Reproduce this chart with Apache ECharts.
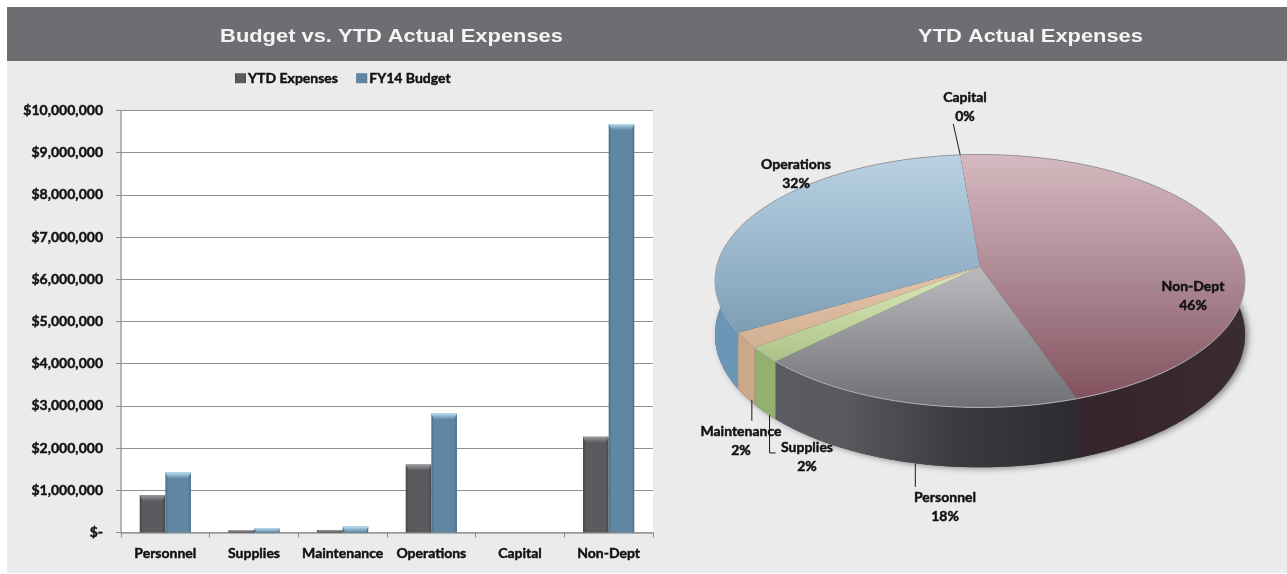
<!DOCTYPE html>
<html>
<head>
<meta charset="utf-8">
<style>html,body{margin:0;padding:0;background:#fff}#chart{width:1287px;height:574px}</style>
<script src="https://cdn.jsdelivr.net/npm/echarts@6/dist/echarts.min.js"></script>
</head>
<body>
<div id="chart"></div>
<script>
// Expense categories and their values in dollars
const categories = ['Personnel', 'Supplies', 'Maintenance', 'Operations', 'Capital', 'Non-Dept'];
const ytdExpenses = [886000, 50000, 60000, 1610000, 0, 2270000];
const fy14Budget = [1420000, 95000, 140000, 2820000, 0, 9680000];
// Share of YTD spending per category, in percent
const ytdShares = [18, 2, 2, 32, 0, 46];

const LABEL_FONT = 'Lato';
const INK = '#111';
const heavy = { textBorderColor: INK, textBorderWidth: 0.45 };

// Tilted-disc projection for the pie: angle 0 points to the back, angles run clockwise
const PIE = { x: 980, y: 266.5, bx: 263.3, by: 124.8, k: 0.1146, depth: 53, startDeg: 160.8 };

function project(deg, drop) {
  const t = deg * Math.PI / 180;
  const u = Math.sin(t), v = Math.cos(t), w = 1 + PIE.k * v;
  return [PIE.x + PIE.bx * u / w, PIE.y - PIE.by * v / w + (drop ? PIE.depth / w : 0)];
}
function arc(from, to, drop) {
  const pts = [], n = Math.max(1, Math.ceil(Math.abs(to - from)));
  for (let i = 0; i <= n; i++) pts.push(project(from + (to - from) * i / n, drop));
  return pts;
}
const sliceAngles = [];
ytdShares.reduce((a, share) => {
  sliceAngles.push([a, a + share * 3.6]);
  return a + share * 3.6;
}, PIE.startDeg);

const vGrad = (stops) => ({ type: 'linear', x: 0, y: 155, x2: 0, y2: 408, global: true,
  colorStops: stops.map((c, i) => ({ offset: i / (stops.length - 1), color: c })) });
const hGrad = (stops) => ({ type: 'linear', x: 714, y: 0, x2: 1245, y2: 0, global: true,
  colorStops: stops.map(([o, c]) => ({ offset: o, color: c })) });

const topFills = [
  vGrad(['#dcdcde', '#b4b4b8', '#6d6f73']),
  vGrad(['#eef5cf', '#d6e4b4', '#93b06f']),
  vGrad(['#f0d8c4', '#dfc0a6', '#c9a283']),
  vGrad(['#b9d1e2', '#8fafc6', '#5f8199']),
  vGrad(['#cccccc', '#cccccc']),
  vGrad(['#d6b9c0', '#ab8791', '#7f4e5b'])
];
const wallFills = [
  hGrad([[0, '#5e5e64'], [0.25, '#58585e'], [0.45, '#3c3c40'], [0.7, '#2b2b2f'], [1, '#2b2b2f']]),
  hGrad([[0, '#93b070'], [1, '#93b070']]),
  hGrad([[0, '#caa888'], [1, '#caa888']]),
  hGrad([[0, '#6b96b6'], [1, '#6b96b6']]),
  hGrad([[0, '#888888'], [1, '#888888']]),
  hGrad([[0.6, '#33222a'], [1, '#3b2c30']])
];
const rimStroke = vGrad(['#96979a', '#a4a5a8', '#b5b5b8']);

// Where each pie label sits, with the start nudge and the steps of its leader line
const pieLabels = {
  'Personnel': { at: [945, 507], rim: 'wall', nudge: [3, 1], leader: [[0, 23]] },
  'Supplies': { at: [807, 457], rim: 'wall', nudge: [5, 3], leader: [[0, 38], [6, 38]] },
  'Maintenance': { at: [741, 441], rim: 'wall', nudge: [6, 3], leader: [[0, 21]] },
  'Operations': { at: [796, 174] },
  'Capital': { at: [965, 107], rim: 'top', nudge: [0, 0], leader: [[-7, -31]] },
  'Non-Dept': { at: [1193, 296] }
};

function renderWall(params, api) {
  const i = params.dataIndex, [a, b] = sliceAngles[i];
  const children = [];
  if (i === 0) {
    children.push({
      type: 'polygon', silent: true,
      shape: { points: arc(0, 360, true) },
      style: { fill: '#555', shadowBlur: 6, shadowColor: 'rgba(0,0,0,0.45)', shadowOffsetX: 3, shadowOffsetY: 1 }
    });
  }
  if (b > a) {
    children.push({
      type: 'polygon',
      shape: { points: arc(a, b, false).concat(arc(a, b, true).reverse()) },
      style: { fill: wallFills[i] }
    });
  }
  return { type: 'group', children };
}

function renderTop(params, api) {
  const i = params.dataIndex, [a, b] = sliceAngles[i];
  if (b <= a) return { type: 'group', children: [] };
  const rim = arc(a, b, false);
  return {
    type: 'group',
    children: [
      { type: 'polygon', shape: { points: [[PIE.x, PIE.y]].concat(rim) }, style: { fill: topFills[i] } },
      { type: 'polyline', shape: { points: rim }, style: { fill: null, stroke: rimStroke, lineWidth: 1 } }
    ]
  };
}

function renderPieLabel(params, api) {
  const i = params.dataIndex, name = categories[i], spot = pieLabels[name];
  const [a, b] = sliceAngles[i];
  const children = [{
    type: 'text',
    style: {
      x: spot.at[0], y: spot.at[1], text: name + '\n' + api.value(0) + '%',
      align: 'center', verticalAlign: 'middle', lineHeight: 19,
      font: 'bold 14px ' + LABEL_FONT, fill: INK, stroke: INK, lineWidth: 0.45
    }
  }];
  if (spot.leader) {
    const p = project((a + b) / 2, spot.rim === 'wall');
    const start = [p[0] + spot.nudge[0], p[1] + spot.nudge[1]];
    children.unshift({
      type: 'polyline',
      shape: { points: [start].concat(spot.leader.map(([dx, dy]) => [start[0] + dx, start[1] + dy])) },
      style: { fill: null, stroke: '#1a1a1a', lineWidth: 1 }
    });
  }
  return { type: 'group', children };
}

// Lighter bevel along the top of each bar, placed through the chart's own scales
function bevel(values, side, stops) {
  return (params, api) => {
    const i = params.dataIndex, v = values[i];
    if (!v) return { type: 'group', children: [] };
    const band = api.size([1, 0])[0], w = band * 0.289;
    const [cx, y] = api.coord([i, v]), [, y0] = api.coord([i, 0]);
    const x0 = side < 0 ? cx - w : cx, x1 = x0 + w;
    const h = Math.min(6, y0 - y);
    return {
      type: 'polygon',
      shape: { points: [[x0, y], [x1, y], [x1 - 3, y + h], [x0 + 3, y + h]] },
      style: { fill: { type: 'linear', x: 0, y: 0, x2: 0, y2: 1, colorStops: [{ offset: 0, color: stops[0] }, { offset: 1, color: stops[1] }] } }
    };
  };
}

const barFill = (edge, core) => ({ type: 'linear', x: 0, y: 0, x2: 1, y2: 0, colorStops: [
  { offset: 0, color: edge }, { offset: 0.12, color: core }, { offset: 0.88, color: core }, { offset: 1, color: edge } ] });

const headerText = (text, x) => ({
  type: 'text', z: 5, silent: true, x, y: 37, scaleX: 1.25,
  style: { text, align: 'center', verticalAlign: 'middle', fill: '#f4f4f4', font: 'bold 17.5px "Liberation Sans"' }
});

const option = {
  animation: false,
  textStyle: { fontFamily: LABEL_FONT },
  graphic: [
    { type: 'rect', z: -10, silent: true, shape: { x: 7, y: 7, width: 1280, height: 566 }, style: { fill: '#ebebeb' } },
    { type: 'rect', z: -9, silent: true, shape: { x: 7, y: 7, width: 1280, height: 54 }, style: { fill: '#6e6d72' } },
    headerText('Budget vs. YTD Actual Expenses', 391.5),
    headerText('YTD Actual Expenses', 1030.5)
  ],
  legend: {
    data: ['YTD Expenses', 'FY14 Budget'], left: 230, top: 66, itemWidth: 11, itemHeight: 10, itemGap: 18,
    icon: 'rect', selectedMode: false,
    textStyle: { fontFamily: LABEL_FONT, fontWeight: 'bold', fontSize: 14, color: INK, padding: [0, 0, 0, -3], ...heavy }
  },
  grid: { left: 121, right: 634, top: 110.5, height: 422, show: true, backgroundColor: '#fff', borderWidth: 0 },
  xAxis: {
    type: 'category', data: categories,
    axisLine: { lineStyle: { color: '#9a9a9a', width: 1.5 } },
    axisTick: { show: true, alignWithLabel: false, length: 5, lineStyle: { color: '#8f8f8f' } },
    axisLabel: { color: INK, fontFamily: LABEL_FONT, fontWeight: 'bold', fontSize: 14, margin: 14, interval: 0, ...heavy }
  },
  yAxis: {
    type: 'value', min: 0, max: 10000000, interval: 1000000,
    axisLine: { show: true, lineStyle: { color: '#a0a0a0', width: 1.5 } },
    axisTick: { show: true, length: 5, lineStyle: { color: '#8f8f8f' } },
    splitLine: { lineStyle: { color: '#8f8f8f', width: 1 } },
    axisLabel: {
      color: INK, fontFamily: LABEL_FONT, fontWeight: 'bold', fontSize: 14, margin: 18, ...heavy,
      formatter: (v) => v === 0 ? '$-' : '$' + v.toLocaleString('en-US')
    }
  },
  series: [
    { name: 'YTD Expenses', type: 'bar', data: ytdExpenses, barWidth: '28.9%', barGap: 0,
      itemStyle: { color: barFill('#454549', '#5a5a5f') } },
    { name: 'FY14 Budget', type: 'bar', data: fy14Budget, barWidth: '28.9%', barGap: 0,
      itemStyle: { color: barFill('#4f7089', '#5f87a3') } },
    { type: 'custom', xAxisIndex: 0, yAxisIndex: 0, z: 5, silent: true,
      data: categories.map((c, i) => [i, ytdExpenses[i]]),
      renderItem: bevel(ytdExpenses, -1, ['#9a9a9e', '#5a5a5f']) },
    { type: 'custom', xAxisIndex: 0, yAxisIndex: 0, z: 5, silent: true,
      data: categories.map((c, i) => [i, fy14Budget[i]]),
      renderItem: bevel(fy14Budget, 1, ['#b5dcf0', '#5f87a3']) },
    { type: 'custom', coordinateSystem: 'none', z: 6, silent: true, data: ytdShares.map((s) => [s]), renderItem: renderWall },
    { type: 'custom', coordinateSystem: 'none', z: 7, silent: true, data: ytdShares.map((s) => [s]), renderItem: renderTop },
    { type: 'custom', coordinateSystem: 'none', z: 8, silent: true, data: ytdShares.map((s) => [s]), renderItem: renderPieLabel }
  ]
};

echarts.init(document.getElementById('chart')).setOption(option);
</script>
</body>
</html>
